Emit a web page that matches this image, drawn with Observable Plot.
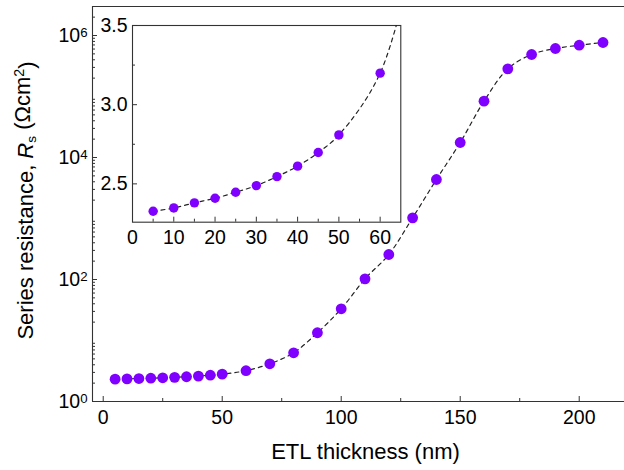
<!DOCTYPE html>
<html><head><meta charset="utf-8">
<script src="https://cdn.jsdelivr.net/npm/d3@7"></script>
<script src="https://cdn.jsdelivr.net/npm/@observablehq/plot@0.6"></script>
<style>
body{margin:0;background:#fff;}
#wrap{position:relative;width:624px;height:470px;overflow:hidden;background:#fff;}
#inset{position:absolute;left:86.7px;top:15px;}
</style></head><body><div id="wrap"><div id="main"></div><div id="inset"></div></div>
<script>
// ---- data ----
const thickness = [5,10,15,20,25,30,35,40,45,50,60,70,80,90,100,110,120,130,140,150,160,170,180,190,200,210];
const resistance = [2.327,2.348,2.380,2.409,2.447,2.489,2.546,2.612,2.698,2.809,3.199,4.15,6.29,13.4,33.1,102.6,257,1026,4360,17600,83800,284000,488000,612000,693000,768000];
const insetThickness = [5,10,15,20,25,30,35,40,45,50,60];
const insetResistance = [2.327,2.348,2.380,2.409,2.447,2.489,2.546,2.612,2.698,2.809,3.199];
const xTicks = [0,50,100,150,200];
const xMinorTicks = [25,75,125,175];
const yTicks = [1,1e2,1e4,1e6];
const insetXTicks = [0,10,20,30,40,50,60];
const insetXMinorTicks = [5,15,25,35,45,55];
const insetYTicks = [2.5,3.0,3.5];
const insetYMinorTicks = [2.75,3.25];
const xLabel = "ETL thickness (nm)";
const yLabel = "Series resistance, R_s (\u03A9cm^2)";

const FONT = '"Liberation Sans", Arial, Helvetica, sans-serif';
const INK = "#333";
const DOT = "#7f00ff";
const TICKFONT = "19.5px";

// ---- main chart ----
const W = 624, H = 470, mL = 92, mT = 6, mB = 69, mR = 0;
const pw = W - mL - mR, ph = H - mT - mB;
const xDomain = [-4.5, -4.5 + pw / 2.38];
const yDomain = [1, Math.pow(10, ph / 61)];
const yMinorTicks = [];
for (let d = 0; d <= 6; d++) for (let k = 2; k <= 9; k++) { const v = k * Math.pow(10, d); if (v < yDomain[1]) yMinorTicks.push(v); }
const mainData = thickness.map((t, i) => ({t, r: resistance[i]}));

const main = Plot.plot({
  width: W, height: H, marginLeft: mL, marginTop: mT, marginBottom: mB, marginRight: mR,
  style: {background: "none", fontFamily: FONT, fontSize: TICKFONT, color: "#000", overflow: "visible"},
  x: {domain: xDomain},
  y: {type: "log", domain: yDomain},
  marks: [
    Plot.ruleX([xDomain[0]], {stroke: INK, strokeWidth: 1.1}),
    Plot.ruleY([yDomain[0]], {stroke: INK, strokeWidth: 1.1}),
    Plot.ruleY([yDomain[1]], {stroke: INK, strokeWidth: 1.1}),
    Plot.tickX(xTicks, {x: d => d, insetTop: ph - 5, stroke: INK}),
    Plot.tickX(xMinorTicks, {x: d => d, insetTop: ph - 3, stroke: INK}),
    Plot.tickY(yTicks, {y: d => d, insetRight: pw - 5, stroke: INK}),
    Plot.tickY(yMinorTicks, {y: d => d, insetRight: pw - 3, stroke: INK}),
    Plot.axisX({ticks: xTicks, tickSize: 0, tickPadding: 8.5, label: null, tickFormat: d => String(d)}),
    Plot.axisY({ticks: yTicks, tickSize: 0, tickPadding: 5, label: null, tickFormat: d => "10^" + Math.round(Math.log10(d))}),
    Plot.text([xLabel], {frameAnchor: "bottom", dy: 57, dx: 7, fontSize: 22, fill: "#000", textAnchor: "middle"}),
    Plot.text([yLabel], {frameAnchor: "left", rotate: -90, dx: -67, dy: -3.5, fontSize: 22, fill: "#000", textAnchor: "middle"}),
    Plot.line(mainData, {x: "t", y: "r", curve: "catmull-rom", stroke: "#222", strokeWidth: 1.2, strokeDasharray: "4,4"}),
    Plot.dot(mainData, {x: "t", y: "r", r: 5.4, fill: DOT, stroke: "none"})
  ]
});
document.getElementById("main").appendChild(main);

// ---- inset ----
const iL = 45, iT = 10, iR = 10, iB = 30, ipw = 268.3, iph = 196.7;
const insetData = insetThickness.map((t, i) => ({t, r: insetResistance[i]}));
const insetLine = insetData.concat([{t: thickness[11], r: resistance[11]}]);
const inset = Plot.plot({
  width: iL + ipw + iR, height: iT + iph + iB,
  marginLeft: iL, marginTop: iT, marginRight: iR, marginBottom: iB,
  style: {background: "none", fontFamily: FONT, fontSize: TICKFONT, color: "#000", overflow: "visible"},
  x: {domain: [0, 65]},
  y: {domain: [2.258, 3.5]},
  marks: [
    Plot.frame({fill: "white", stroke: INK, strokeWidth: 1.1}),
    Plot.tickX(insetXTicks, {x: d => d, insetTop: iph - 5, stroke: INK}),
    Plot.tickX(insetXMinorTicks, {x: d => d, insetTop: iph - 3, stroke: INK}),
    Plot.tickY(insetYTicks, {y: d => d, insetRight: ipw - 5, stroke: INK}),
    Plot.tickY(insetYMinorTicks, {y: d => d, insetRight: ipw - 3, stroke: INK}),
    Plot.axisX({ticks: insetXTicks, tickSize: 0, tickPadding: 7.6, label: null, tickFormat: d => String(d)}),
    Plot.axisY({ticks: insetYTicks, tickSize: 0, tickPadding: 5, label: null, tickFormat: d3.format(".1f")}),
    Plot.line(insetLine, {x: "t", y: "r", curve: "catmull-rom", stroke: "#222", strokeWidth: 1.2, strokeDasharray: "4,4", clip: true}),
    Plot.dot(insetData, {x: "t", y: "r", r: 4.7, fill: DOT, stroke: "none"})
  ]
});
document.getElementById("inset").appendChild(inset);

// ---- rich text (superscripts / subscripts) ----
d3.select(main).selectAll("text").each(function () {
  const t = this.textContent;
  const m = t.match(/^10\^(\d)$/);
  if (m) {
    const s = d3.select(this); s.text("");
    s.append("tspan").text("10");
    s.append("tspan").attr("dy", "-0.38em").attr("font-size", "0.68em").text(m[1]);
    return;
  }
  if (t.startsWith("Series")) {
    const s = d3.select(this); s.text("");
    s.append("tspan").text("Series resistance, ");
    s.append("tspan").attr("font-style", "italic").text("R");
    s.append("tspan").attr("dy", "0.28em").attr("font-size", "0.62em").text("s");
    s.append("tspan").attr("dy", "-0.28em").text(" (\u03A9cm");
    s.append("tspan").attr("dy", "-0.45em").attr("font-size", "0.65em").text("2");
    s.append("tspan").attr("dy", "0.45em").text(")");
  }
});
</script></body></html>
